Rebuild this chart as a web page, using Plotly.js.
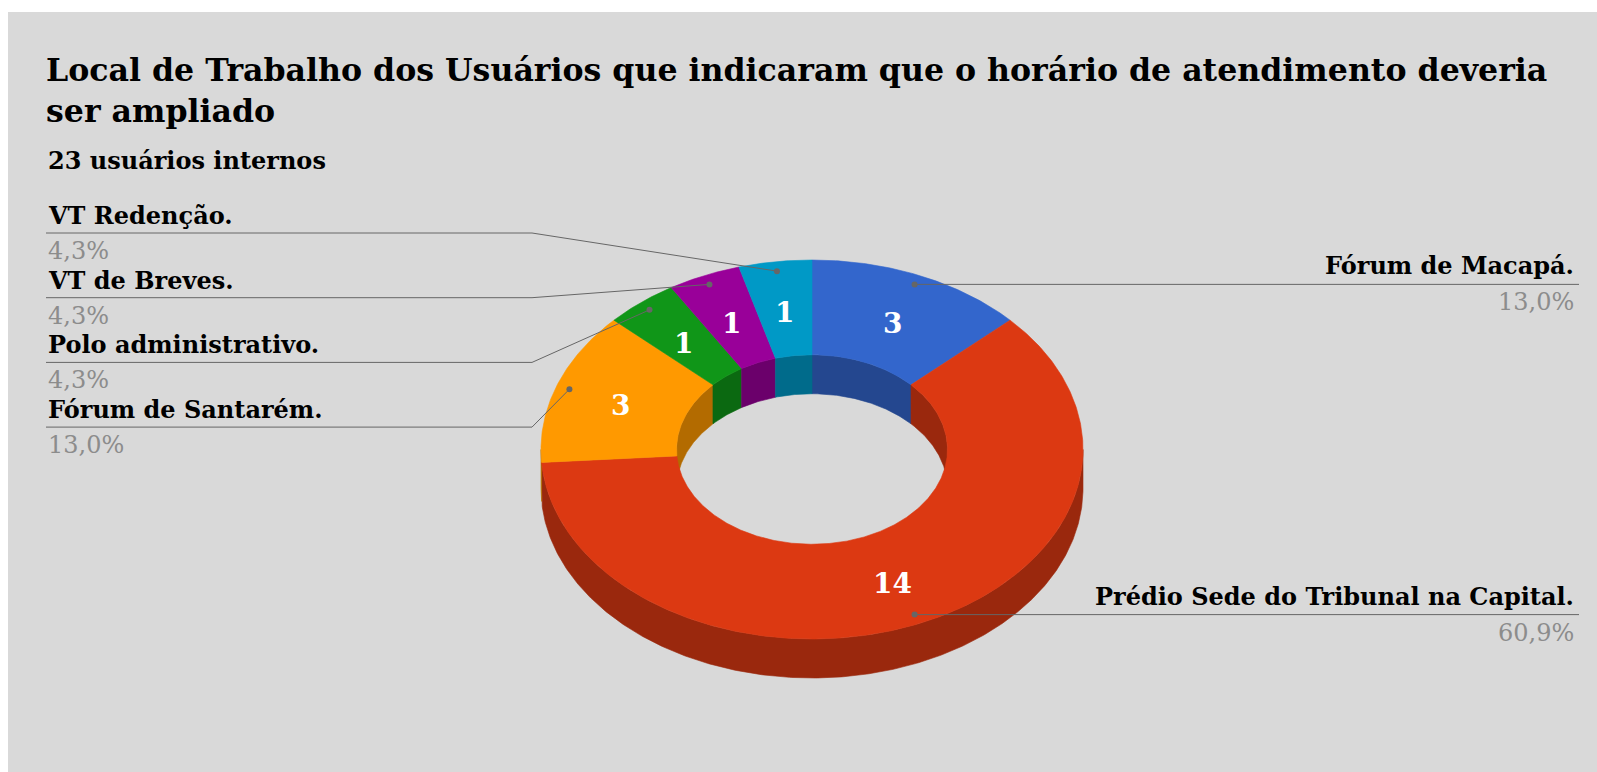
<!DOCTYPE html>
<html><head><meta charset="utf-8">
<script src="https://cdn.plot.ly/plotly-3.0.1.min.js"></script>
<style>html,body{margin:0;padding:0;background:#fff;} #chart{width:1597px;height:772px;}</style>
</head><body><div id="chart"></div>
<script>
// ---- data ----
const categories = ['Fórum de Macapá.', 'Prédio Sede do Tribunal na Capital.', 'Fórum de Santarém.', 'Polo administrativo.', 'VT de Breves.', 'VT Redenção.'];
const counts = [3, 14, 3, 1, 1, 1];
const sliceColors = ['#3366cc', '#dc3912', '#ff9900', '#109618', '#990099', '#0099c6'];
const titleText = 'Local de Trabalho dos Usuários que indicaram que o horário de atendimento deveria<br>ser ampliado';
const subtitleText = '23 usuários internos';

// ---- layout / geometry settings ----
const W = 1597, H = 772;
const CX = 812, CY = 449.5, RX = 271, RY = 189.5, DEPTH = 39, HOLE = 0.5;
const VALUE_R = 0.75, DOT_R = 0.95, VALUE_DY = 4;
const LEFT_TEXT_X = 46, LEFT_ELBOW_X = 532, LEFT_TOP_Y = 233, LEFT_GAP = 64.7;
const RIGHT_TEXT_X = 1576, RIGHT_LINE_END = 1579;
const FONT = '"DejaVu Serif", "Liberation Serif", serif';
const LINE_COLOR = '#666666';
const PCT_COLOR = '#8c8c8c';
const LABEL_SIZE = 24;

function shade(hex, f) {
  const n = parseInt(hex.slice(1), 16);
  const r = Math.round(((n >> 16) & 255) * f), g = Math.round(((n >> 8) & 255) * f), b = Math.round((n & 255) * f);
  return 'rgb(' + r + ',' + g + ',' + b + ')';
}
function pt(t, r, dz) { return [CX + RX * r * Math.sin(t), CY - RY * r * Math.cos(t) + dz]; }
function arc(t0, t1, r, dz) {
  const n = Math.max(2, Math.ceil(Math.abs(t1 - t0) / (Math.PI / 360)));
  const xs = [], ys = [];
  for (let i = 0; i <= n; i++) { const p = pt(t0 + (t1 - t0) * i / n, r, dz); xs.push(p[0]); ys.push(p[1]); }
  return [xs, ys];
}
function band(t0, t1, r0, dz0, r1, dz1) {
  const a = arc(t0, t1, r0, dz0), b = arc(t1, t0, r1, dz1);
  return [a[0].concat(b[0], [a[0][0]]), a[1].concat(b[1], [a[1][0]])];
}
function clip(t0, t1, lo, hi) { const s = Math.max(t0, lo), e = Math.min(t1, hi); return e > s ? [s, e] : null; }

const total = counts.reduce((a, b) => a + b, 0);
const slices = [];
let cum = 0;
counts.forEach((v, i) => {
  const t0 = 2 * Math.PI * cum / total; cum += v;
  const t1 = 2 * Math.PI * cum / total;
  slices.push({ i, v, t0, t1, mid: (t0 + t1) / 2, pct: (100 * v / total).toFixed(1).replace('.', ',') + '%' });
});

const traces = [];
function poly(xy, color, hover) {
  traces.push({ type: 'scatter', mode: 'lines', x: xy[0], y: xy[1], fill: 'toself', fillcolor: color,
    line: { color: color, width: 0.6 }, showlegend: false,
    hoverinfo: hover ? 'text' : 'skip', text: hover || '', hoveron: 'fills' });
}
// outer walls (front half)
slices.forEach(s => {
  const c = clip(s.t0, s.t1, Math.PI / 2, 3 * Math.PI / 2);
  if (c) poly(band(c[0], c[1], 1, 0, 1, DEPTH), shade(sliceColors[s.i], 0.7));
});
// inner walls (back half of hole)
slices.forEach(s => {
  [[0, Math.PI / 2], [3 * Math.PI / 2, 2 * Math.PI]].forEach(rg => {
    const c = clip(s.t0, s.t1, rg[0], rg[1]);
    if (c) poly(band(c[0], c[1], HOLE, 0, HOLE, DEPTH), shade(sliceColors[s.i], 0.7));
  });
});
// top faces
slices.forEach(s => {
  poly(band(s.t0, s.t1, 1, 0, HOLE, 0), sliceColors[s.i], categories[s.i] + ' ' + s.v + ' (' + s.pct + ')');
});

// leader lines + labels
const annotations = [];
const dotsX = [], dotsY = [];
const leftSl = [];
slices.forEach(s => {
  const d = pt(s.mid, DOT_R, 0);
  s.dot = d; dotsX.push(d[0]); dotsY.push(d[1]);
  if (Math.sin(s.mid) >= 0) {
    traces.push({ type: 'scatter', mode: 'lines', x: [d[0], RIGHT_LINE_END], y: [d[1], d[1]],
      line: { color: LINE_COLOR, width: 1 }, hoverinfo: 'skip', showlegend: false });
    annotations.push({ x: RIGHT_TEXT_X, y: d[1] - 2, xref: 'x', yref: 'y', xanchor: 'right', yanchor: 'bottom', showarrow: false,
      text: '<b>' + categories[s.i] + '</b>', font: { family: FONT, size: LABEL_SIZE, color: '#000' } });
    annotations.push({ x: RIGHT_TEXT_X, y: d[1] + 2, xref: 'x', yref: 'y', xanchor: 'right', yanchor: 'top', showarrow: false,
      text: s.pct, font: { family: FONT, size: LABEL_SIZE, color: PCT_COLOR } });
  } else leftSl.push(s);
});
leftSl.sort((a, b) => a.dot[1] - b.dot[1]);
leftSl.forEach((s, k) => {
  const ly = LEFT_TOP_Y + k * LEFT_GAP;
  traces.push({ type: 'scatter', mode: 'lines', x: [s.dot[0], LEFT_ELBOW_X, LEFT_TEXT_X], y: [s.dot[1], ly, ly],
    line: { color: LINE_COLOR, width: 1 }, hoverinfo: 'skip', showlegend: false });
  annotations.push({ x: LEFT_TEXT_X, y: ly - 1, xref: 'x', yref: 'y', xanchor: 'left', yanchor: 'bottom', showarrow: false,
    text: '<b>' + categories[s.i] + '</b>', font: { family: FONT, size: LABEL_SIZE, color: '#000' } });
  annotations.push({ x: LEFT_TEXT_X, y: ly + 2, xref: 'x', yref: 'y', xanchor: 'left', yanchor: 'top', showarrow: false,
    text: s.pct, font: { family: FONT, size: LABEL_SIZE, color: PCT_COLOR } });
});
traces.push({ type: 'scatter', mode: 'markers', x: dotsX, y: dotsY, marker: { color: LINE_COLOR, size: 6 },
  hoverinfo: 'skip', showlegend: false });

// value labels on slices
slices.forEach(s => {
  const p = pt(s.mid, VALUE_R, VALUE_DY);
  annotations.push({ x: p[0], y: p[1], xref: 'x', yref: 'y', xanchor: 'center', yanchor: 'middle', showarrow: false,
    text: '<b>' + s.v + '</b>', font: { family: FONT, size: 28, color: '#ffffff' } });
});

// subtitle
annotations.push({ x: 46, y: 177, xref: 'x', yref: 'y', xanchor: 'left', yanchor: 'bottom', showarrow: false,
  text: '<b>' + subtitleText + '</b>', font: { family: FONT, size: 24, color: '#000' } });

const layout = {
  width: W, height: H, margin: { l: 0, r: 0, t: 0, b: 0, pad: 0 },
  paper_bgcolor: '#ffffff', plot_bgcolor: 'rgba(0,0,0,0)',
  title: { text: '<b>' + titleText + '</b>', x: 46 / W, xanchor: 'left', xref: 'paper', y: 1 - 81 / H, yanchor: 'top', yref: 'container',
    font: { family: FONT, size: 31.6, color: '#000' } },
  xaxis: { range: [0, W], visible: false, fixedrange: true },
  yaxis: { range: [H, 0], visible: false, fixedrange: true },
  shapes: [{ type: 'rect', xref: 'x', yref: 'y', x0: 8, x1: W, y0: 12, y1: H, fillcolor: '#d9d9d9', line: { width: 0 }, layer: 'below' }],
  annotations: annotations,
  hovermode: 'closest'
};
Plotly.newPlot('chart', traces, layout, { displayModeBar: false, staticPlot: false });
</script></body></html>
